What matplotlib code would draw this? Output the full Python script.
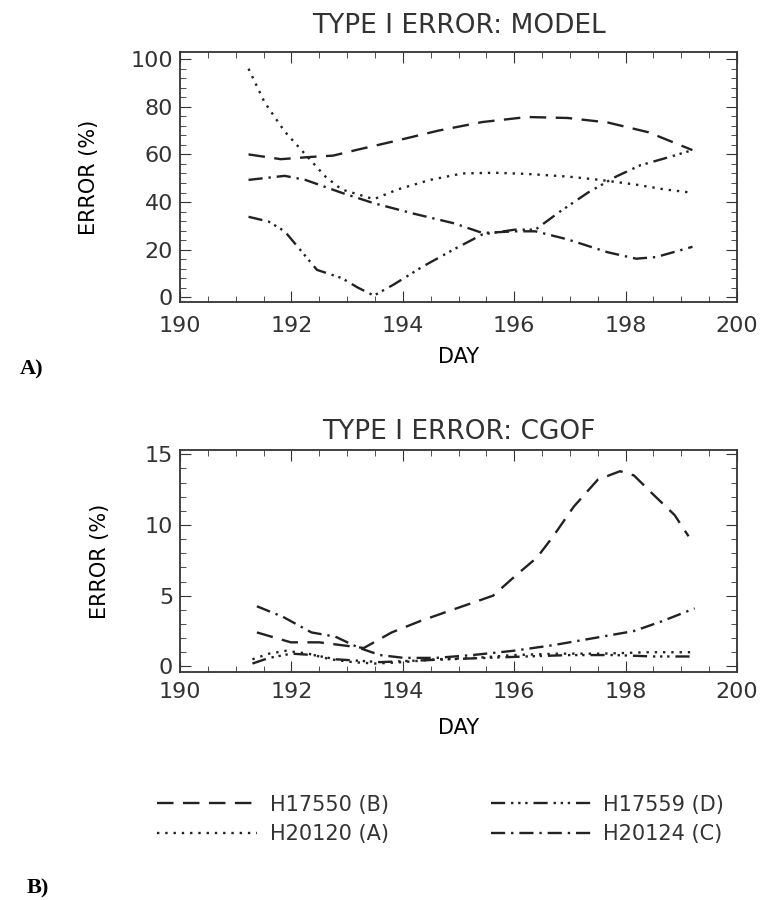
import numpy as np
import matplotlib
matplotlib.use("Agg")
import matplotlib.pyplot as plt
from matplotlib.ticker import MultipleLocator

plt.rcParams.update({
    "font.family": "DejaVu Sans",
    "xtick.direction": "in",
    "ytick.direction": "in",
    "xtick.top": True,
    "ytick.right": True,
    "xtick.major.size": 8,
    "ytick.major.size": 8,
    "xtick.minor.size": 4,
    "ytick.minor.size": 4,
    "axes.linewidth": 1.3,
    "text.color": "#333333",
    "xtick.color": "#333333",
    "ytick.color": "#333333",
    "axes.edgecolor": "#333333",
})

ink = "#222222"

# ---- panel A: Type I error, model ----
a_b_day = [191.23, 191.81, 192.39, 192.75, 193.19, 193.84, 194.64, 195.43, 196.23, 196.96, 197.68, 198.41, 199.20]
a_b_err = [60, 58, 59, 59.5, 62, 65.5, 70, 73.6, 75.7, 75.3, 73.4, 69.3, 61.8]

a_a_day = [191.23, 191.52, 191.88, 192.25, 192.61, 192.9, 193.48, 193.91, 194.49, 195.07, 195.65, 196.23, 196.96, 197.54, 198.19, 198.7, 199.2]
a_a_err = [96, 81.8, 69.6, 60, 50.7, 45.3, 41.2, 45.3, 49.3, 52, 52.3, 51.8, 50.7, 49.3, 47.3, 45.3, 43.9]

a_c_day = [191.23, 191.88, 192.25, 192.9, 193.48, 194.2, 194.93, 195.43, 196.01, 196.38, 196.96, 197.68, 198.19, 198.55, 199.2]
a_c_err = [49.3, 51, 49.3, 43.9, 39.5, 35.1, 31, 27, 27.7, 27.7, 24.3, 18.9, 16.2, 16.9, 21.2]

a_d_day = [191.23, 191.59, 191.88, 192.17, 192.46, 192.9, 193.19, 193.48, 193.84, 194.35, 194.93, 195.43, 196.01, 196.38, 196.81, 197.32, 197.83, 198.26, 198.77, 199.2]
a_d_err = [33.8, 31.8, 27.7, 19.6, 11.5, 8.1, 4.1, 0.7, 5.4, 12.8, 20.3, 26.4, 28.4, 28.4, 35.8, 43.9, 50.7, 55.4, 58.8, 61.8]

# ---- panel B: Type I error, CGOF ----
b_b_day = [191.38, 191.99, 192.5, 193.3, 193.8, 194.31, 194.89, 195.33, 195.62, 196.05, 196.41, 196.7, 197.07, 197.5, 197.9, 198.15, 198.51, 198.88, 199.13]
b_b_err = [2.4, 1.7, 1.7, 1.3, 2.4, 3.2, 4.0, 4.6, 5.0, 6.5, 7.7, 9.2, 11.3, 13.2, 13.8, 13.5, 12.1, 10.7, 9.2]

b_a_day = [191.3, 191.6, 191.9, 192.3, 192.7, 193.1, 193.5, 194.0, 194.6, 195.3, 196.0, 196.8, 197.6, 198.4, 199.2]
b_a_err = [0.5, 0.9, 1.1, 0.9, 0.5, 0.3, 0.2, 0.3, 0.5, 0.6, 0.8, 0.9, 0.9, 1.0, 1.0]

b_c_day = [191.38, 191.85, 192.36, 192.79, 193.22, 193.59, 194.02, 194.6, 195.25, 195.98, 196.7, 197.43, 198.15, 198.66, 199.24]
b_c_err = [4.25, 3.5, 2.4, 2.1, 1.3, 0.8, 0.6, 0.6, 0.8, 1.1, 1.5, 2.0, 2.5, 3.2, 4.1]

b_d_day = [191.3, 191.6, 192.0, 192.4, 192.8, 193.2, 193.6, 194.2, 194.8, 195.5, 196.2, 197.0, 197.8, 198.5, 199.2]
b_d_err = [0.2, 0.6, 0.9, 0.8, 0.5, 0.4, 0.3, 0.4, 0.5, 0.6, 0.7, 0.8, 0.8, 0.7, 0.7]

labels = ["H17550 (B)", "H20120 (A)", "H17559 (D)", "H20124 (C)"]
styles = {
    "B": (0, (7, 4)),
    "A": (0, (1, 2.5)),
    "C": (0, (6, 2.5, 1, 2.5)),
    "D": (0, (6, 2.5, 1, 2, 1, 2, 1, 2.5)),
}

fig = plt.figure(figsize=(7.67, 9.0), dpi=100)
ax1 = fig.add_axes([0.2347, 0.6644, 0.7262, 0.2778])
ax2 = fig.add_axes([0.2347, 0.2533, 0.7262, 0.2467])

lw = 1.7
ax1.plot(a_b_day, a_b_err, color=ink, lw=lw, ls=styles["B"])
ax1.plot(a_a_day, a_a_err, color=ink, lw=lw, ls=styles["A"])
ax1.plot(a_d_day, a_d_err, color=ink, lw=lw, ls=styles["D"])
ax1.plot(a_c_day, a_c_err, color=ink, lw=lw, ls=styles["C"])

hb, = ax2.plot(b_b_day, b_b_err, color=ink, lw=lw, ls=styles["B"])
ha, = ax2.plot(b_a_day, b_a_err, color=ink, lw=lw, ls=styles["A"])
hd, = ax2.plot(b_d_day, b_d_err, color=ink, lw=lw, ls=styles["D"])
hc, = ax2.plot(b_c_day, b_c_err, color=ink, lw=lw, ls=styles["C"])

ax1.set_xlim(190, 200)
ax1.set_ylim(-2, 103)
ax1.xaxis.set_major_locator(MultipleLocator(2))
ax1.xaxis.set_minor_locator(MultipleLocator(0.5))
ax1.yaxis.set_major_locator(MultipleLocator(20))
ax1.yaxis.set_minor_locator(MultipleLocator(4))

ax2.set_xlim(190, 200)
ax2.set_ylim(-0.4, 15.3)
ax2.xaxis.set_major_locator(MultipleLocator(2))
ax2.xaxis.set_minor_locator(MultipleLocator(0.5))
ax2.yaxis.set_major_locator(MultipleLocator(5))
ax2.yaxis.set_minor_locator(MultipleLocator(1))

for ax, title, tpad, xpad, lpad in [(ax1, "TYPE I ERROR: MODEL", 14, 10, 8), (ax2, "TYPE I ERROR: CGOF", 8, 7, 12)]:
    ax.set_title(title, fontsize=19, pad=tpad)
    ax.tick_params(which="both", labelsize=16)
    ax.tick_params(axis="x", which="major", pad=xpad)
    ax.tick_params(axis="y", which="major", pad=5)
    ax.set_xlabel("DAY", fontsize=15, labelpad=lpad)
    ax.set_ylabel("ERROR (%)", fontsize=15)

ax1.yaxis.set_label_coords(-0.145, 0.5)
ax2.yaxis.set_label_coords(-0.125, 0.5)

fig.text(0.026, 0.589, "A)", fontsize=16, fontweight="bold", family="Liberation Serif",
         va="center", color="black")
fig.text(0.035, 0.013, "B)", fontsize=16, fontweight="bold", family="Liberation Serif",
         va="center", color="black")

fig.legend([hb, ha, hd, hc], labels, ncol=2, loc="upper left",
           bbox_to_anchor=(0.205, 0.117), frameon=False, fontsize=15,
           handlelength=4.8, handletextpad=0.6, columnspacing=4.9,
           labelspacing=0.45, borderpad=0, borderaxespad=0)

fig.savefig("out.png", dpi=100, facecolor="white")
